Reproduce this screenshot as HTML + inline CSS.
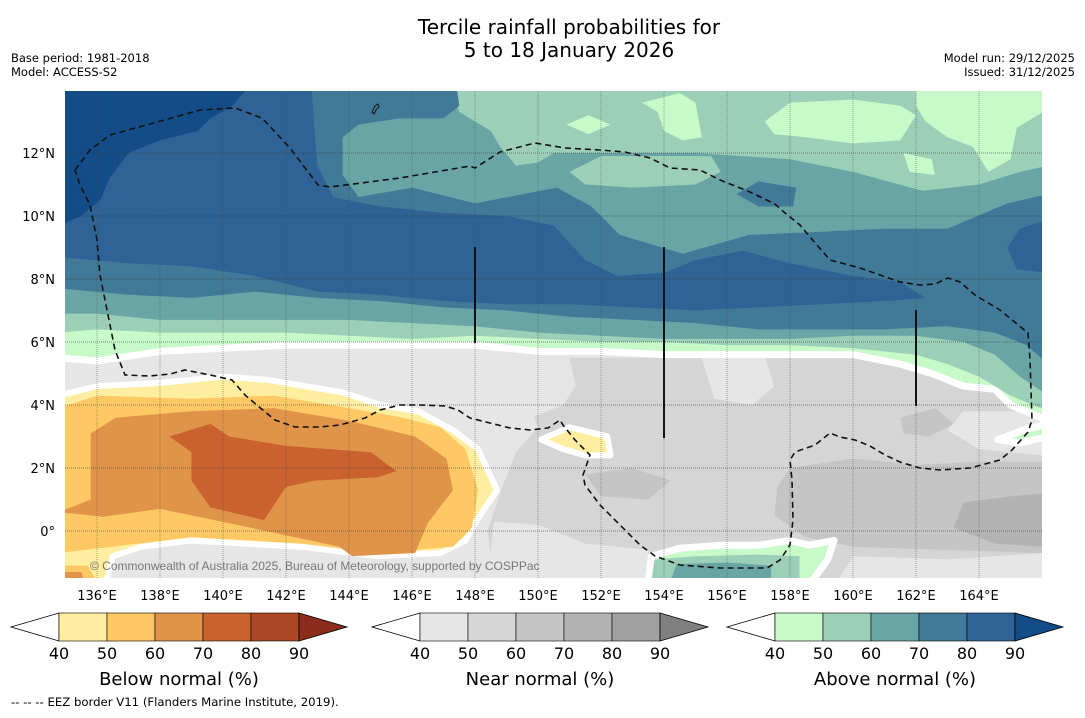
<!DOCTYPE html>
<html><head><meta charset="utf-8"><style>
body{margin:0;background:#fff;font-family:"Liberation Sans",sans-serif;}
svg text{font-family:"DejaVu Sans","Liberation Sans",sans-serif;}
</style></head><body>
<svg id="chart" width="1085" height="713" viewBox="0 0 1085 713" xmlns="http://www.w3.org/2000/svg">
<defs><clipPath id="mapclip"><rect x="65" y="91" width="977" height="487"/></clipPath></defs>
<text x="569" y="34" font-size="20" text-anchor="middle">Tercile rainfall probabilities for</text>
<text x="569" y="57" font-size="20" text-anchor="middle">5 to 18 January 2026</text>
<text x="11" y="62" font-size="11.5">Base period: 1981-2018</text>
<text x="11" y="76" font-size="11.5">Model: ACCESS-S2</text>
<text x="1075" y="62" font-size="11.5" text-anchor="end">Model run: 29/12/2025</text>
<text x="1075" y="76" font-size="11.5" text-anchor="end">Issued: 31/12/2025</text>
<g id="field" clip-path="url(#mapclip)"></g>
<g id="overlay" clip-path="url(#mapclip)">
<path fill="none" stroke="#111" stroke-width="1.6" stroke-dasharray="6,4" d="M75,170 L90,150 L110,135 L150,124 L200,110 L235,108 L262,118 L290,148 L318,185 L330,187 L400,178 L470,166 L475,168 L500,152 L535,143 L565,148 L600,150 L625,152 L650,158 L670,168 L700,170 L720,180 L750,192 L775,204 L785,213 L800,225 L810,237 L830,260 L860,268 L880,275 L900,282 L920,285 L935,284 L948,278 L960,282 L975,295 L1000,310 L1028,333 L1030,360 L1032,420 L1028,432 L1012,450 L1000,460 L970,468 L940,470 L920,468 L900,462 L885,455 L870,446 L855,440 L840,437 L830,433 L815,445 L795,452 L790,460 L792,480 L793,520 L790,545 L780,560 L767,568 L720,568 L680,565 L655,556 L640,545 L620,525 L600,505 L585,485 L583,475 L590,455 L575,440 L563,425 L560,420 L548,428 L530,430 L510,428 L490,423 L470,418 L458,410 L445,406 L420,405 L400,405 L380,410 L365,418 L340,425 L320,427 L295,427 L275,420 L258,406 L245,395 L232,380 L215,376 L200,373 L185,370 L170,374 L150,376 L125,375 L115,350 L107,310 L100,275 L97,240 L90,205 L80,185 L75,170"/>
<line x1="475" y1="247" x2="475" y2="343" stroke="#111" stroke-width="2"/>
<line x1="664" y1="247" x2="664" y2="438" stroke="#111" stroke-width="2"/>
<line x1="916" y1="310" x2="916" y2="406" stroke="#111" stroke-width="2"/>
<path d="M372,112 l3,-6 l3,-2 l1,3 l-3,3 l-2,4z" fill="none" stroke="#111" stroke-width="1"/>
<text x="90" y="570" font-size="12" fill="#777" style="font-family:'Liberation Sans',sans-serif">© Commonwealth of Australia 2025, Bureau of Meteorology, supported by COSPPac</text>
</g>
<g id="axes"></g>
<g id="cbars"></g>
<text x="11" y="706" font-size="11.7">--  --  -- EEZ border V11 (Flanders Marine Institute, 2019).</text>
</svg>
<script>
const lonTicks=[136,138,140,142,144,146,148,150,152,154,156,158,160,162,164];
const latTicks=[0,2,4,6,8,10,12];
const cbarLevels=[40,50,60,70,80,90];
const belowColors=["#ffeda0","#fec965","#e0944a","#c9622f","#ab4725","#8a2d1c"];
const nearColors=["#e6e6e6","#d5d5d5","#c5c5c5","#b3b3b3","#a1a1a1","#808080"];
const aboveColors=["#c8f9c8","#9ccfb8","#6aa5a5","#417a98","#2f6396","#144c88"];
const cbarTitles=["Below normal (%)","Near normal (%)","Above normal (%)"];

const gray50=[[[148.8,5.5],[166,5.5],[166,-1.6],[148.6,-1.6],[148.4,0],[148.9,1.5],[149.3,2.5],[150,3.3],[149.5,4.5]]];
const grayLight=[[[148.3,5.5],[151,5.5],[151.2,4.6],[150.8,4.0],[149.8,3.6],[149,3.7]],[[155.2,5.5],[157.2,5.5],[157.5,4.6],[156.8,4.0],[155.6,4.2]],[[148.4,-1.6],[148.6,0.3],[150,0.2],[151.5,-0.4],[153.5,-0.6],[153.5,-1.6]],[[163.5,3.8],[166,3.8],[166,2.4],[164,2.6],[163,3.2]],[[159.5,-1.6],[160,-0.8],[163,-0.9],[166,-0.7],[166,-1.6]]];
const gray60=[[[158,2.0],[160,2.3],[162,2.1],[164,2.2],[166,2.2],[166,-0.7],[163,-0.6],[160,-0.5],[158.5,-0.2],[157.5,0.5],[157.6,1.4]],[[161.5,3.6],[162.6,3.9],[163.2,3.4],[162.4,3.0],[161.6,3.1]],[[151.5,1.8],[153,2.0],[154.2,1.6],[153.5,1.0],[152,1.1]]];
const gray70=[[[163.5,0.9],[165,1.1],[166,1.2],[166,-0.5],[164.5,-0.4],[163.2,0.1]]];
const below40=[[[134.8,4.3],[136,4.6],[138,4.7],[140,4.9],[141.4,4.8],[143.8,4.4],[145,4.0],[146.2,3.8],[147.3,3.2],[148.1,2.6],[148.7,1.3],[148.1,0.4],[147.7,-0.3],[146.9,-0.7],[144.9,-0.8],[142.5,-0.5],[139,-0.3],[137.4,-0.5],[136.5,-0.8],[136.3,-1.6],[134.8,-1.6]],[[150.1,2.9],[151,3.3],[152.2,3.0],[152.3,2.4],[151.5,2.4],[150.8,2.6]]];
const below50=[[[134.8,3.9],[136,4.3],[139,4.2],[141.6,4.3],[144,3.9],[145.7,3.6],[146.9,3.3],[147.7,2.6],[148.1,1.3],[147.9,0.1],[147.3,-0.5],[144.9,-0.7],[142.5,-0.4],[139,-0.2],[134.8,-0.7]],[[134.8,-1.1],[135.7,-1.1],[136,-1.6],[134.8,-1.6]]];
const below60=[[[134.8,0.6],[135.8,1.0],[135.8,3.1],[136.6,3.6],[139,3.8],[141.6,3.9],[144,3.5],[146.1,3.0],[147.1,2.3],[147.3,1.3],[146.5,0.25],[146.1,-0.7],[144.1,-0.8],[143.7,-0.5],[140.9,0.1],[138,0.7],[136.2,0.45]],[[134.8,-1.3],[135.5,-1.3],[135.6,-1.6],[134.8,-1.6]]];
const below70=[[[138.3,3.0],[139.6,3.4],[140.2,3.0],[142,2.7],[144.7,2.5],[145.5,1.9],[144.9,1.7],[142.9,1.6],[142,1.4],[141.3,0.35],[139.6,0.75],[139,1.6],[139,2.5]]];
const above40=[[[134.8,14.2],[166.2,14.2],[166.2,3.5],[165,4.0],[164.5,4.5],[163.5,4.6],[162.5,5.0],[161.5,5.3],[160,5.6],[158,5.6],[156,5.6],[154,5.6],[152,5.7],[150,5.7],[148,5.9],[146,5.9],[144,5.9],[142,5.9],[140,5.8],[138,5.7],[136,5.4],[134.8,5.5]],[[164.6,2.9],[165.4,3.2],[166.2,3.4],[166.2,3.0],[165.3,2.8]],[[153.5,-1.6],[153.6,-0.8],[154.5,-0.55],[155.8,-0.45],[157,-0.45],[158,-0.3],[158.6,-0.45],[159.4,-0.3],[159.2,-0.9],[158.7,-1.6]]];
const above50=[[[134.8,14.2],[166.2,14.2],[166.2,3.8],[165,4.3],[164,4.9],[163,5.3],[162,5.6],[160,5.8],[158,5.9],[156,5.9],[154,6.0],[152,6.0],[150,6.1],[148,6.2],[146,6.1],[144,6.2],[142,6.3],[140,6.3],[138,6.3],[136,6.4],[134.8,6.3]],[[153.6,-1.6],[153.7,-0.9],[155,-0.8],[157,-0.75],[158.3,-0.8],[158.3,-1.6]]];
const above40Holes=[[[157.2,13.0],[158,13.6],[160,13.7],[161.5,13.5],[162,13.2],[161.5,12.4],[160,12.3],[158.5,12.5],[157.5,12.6]],[[162,14.2],[166.2,14.2],[166.2,13.4],[165.2,12.8],[165,11.8],[164.3,11.4],[163.8,12.2],[163,12.5],[162.3,13],[162,13.5]],[[153.3,13.6],[154.5,13.9],[155,13.6],[155.2,12.5],[154.6,12.4],[154,12.7],[153.8,13.3]],[[150.9,12.9],[151.6,13.2],[152.3,12.9],[151.6,12.6]],[[161.6,12],[162.5,11.8],[162.6,11.3],[161.8,11.4]]];
const above60=[[[134.8,14.2],[147.2,14.2],[147.5,13.3],[148.5,12.7],[148.8,12.2],[149.3,11.6],[150,11.7],[150.5,12.0],[152,12.0],[155,12.0],[158,11.8],[160,11.4],[162.2,10.8],[164,11.0],[165.3,11.4],[166.2,11.6],[166.2,4.3],[165.3,4.9],[164.5,5.6],[163.5,6.0],[162,6.2],[160,6.2],[158,6.1],[156,6.1],[154,6.1],[152,6.2],[150,6.3],[148,6.5],[146,6.6],[144,6.7],[142,6.7],[140,6.7],[138,6.7],[136,6.9],[134.8,6.9]],[[154.2,-1.6],[154.4,-1.05],[156,-1.0],[157.4,-1.1],[157.4,-1.6]]];
const above50Holes=[[[151,11.4],[152,11.9],[155.5,11.9],[155.8,11.4],[155,11.0],[153,10.9],[151.5,11.0]]];
const above70=[[[134.8,14.2],[147.4,14.2],[147.5,13.5],[147,13.1],[145.6,13.1],[144.3,12.9],[143.8,12.5],[143.8,11.3],[144.3,10.6],[146,10.9],[148,10.4],[150.6,10.9],[151.7,10.3],[152.6,9.4],[154.6,8.8],[156.7,9.4],[159,9.5],[161,9.6],[163,9.6],[164.9,10.4],[166.2,10.7],[166.2,5.3],[165.5,5.9],[164.5,6.3],[163,6.5],[161,6.4],[159,6.4],[157,6.4],[155,6.6],[153,6.7],[151,6.8],[149,7.0],[147,7.1],[145,7.3],[143,7.4],[141,7.6],[139,7.4],[137,7.5],[134.8,7.7]],[[156.3,10.7],[157,11.1],[158.2,10.9],[158.1,10.3],[157,10.3]]];
const above80=[[[134.8,14.2],[142.8,14.2],[142.9,12.8],[143,11.6],[143.5,10.6],[145,10.3],[147,10.1],[149,10.0],[150.5,9.7],[151.5,8.6],[152.5,8.1],[154,8.2],[155,8.6],[156.5,8.9],[158,8.5],[160,8.1],[161.5,7.9],[162.3,7.4],[161,7.3],[159,7.2],[157,7.1],[155,7.0],[153,7.1],[151,7.2],[149,7.2],[147,7.3],[145,7.5],[143,7.6],[141,8.1],[139,8.4],[137,8.5],[134.8,8.7]],[[166.2,9.9],[165.3,9.6],[164.9,9.0],[165.2,8.3],[166.2,8.2]]];
const above90=[[[134.8,14.2],[140.9,14.2],[140.3,13.5],[139.6,13.1],[139.2,12.7],[138,12.4],[137,12.0],[136.4,11.2],[136.1,10.5],[135.5,10.0],[134.8,9.7]]];

const NS="http://www.w3.org/2000/svg";
function xOf(lon){return 97+(lon-136)*31.5;}
function yOf(lat){return 531-lat*31.5;}
const field=document.getElementById('field');
function drawPolys(polys,color,name,stroke){
  polys.forEach(function(poly,i){
    const p=document.createElementNS(NS,'polygon');
    p.setAttribute('points',poly.map(function(q){return xOf(q[0]).toFixed(1)+','+yOf(q[1]).toFixed(1);}).join(' '));
    p.setAttribute('fill',color);
    if(stroke){p.setAttribute('stroke','#fff');p.setAttribute('stroke-width',stroke);p.setAttribute('stroke-linejoin','round');}
    
    
    field.appendChild(p);
  });
}
const base=document.createElementNS(NS,'rect');
base.setAttribute('x',65);base.setAttribute('y',91);base.setAttribute('width',977);base.setAttribute('height',487);base.setAttribute('fill',nearColors[0]);


field.appendChild(base);
drawPolys(gray50,nearColors[1],'near-normal-50');
drawPolys(grayLight,nearColors[0],'near-normal-40');
drawPolys(gray60,nearColors[2],'near-normal-60');
drawPolys(gray70,nearColors[3],'near-normal-70');
drawPolys(below40,belowColors[0],'below-normal-40',6);
drawPolys(below50,belowColors[1],'below-normal-50');
drawPolys(below60,belowColors[2],'below-normal-60');
drawPolys(below70,belowColors[3],'below-normal-70');
drawPolys(above40,aboveColors[0],'above-normal-40',7);
drawPolys(above50,aboveColors[1],'above-normal-50');
drawPolys(above40Holes,aboveColors[0],'above-normal-40-patch');
drawPolys(above60,aboveColors[2],'above-normal-60');
drawPolys(above50Holes,aboveColors[1],'above-normal-50-patch');
drawPolys(above70,aboveColors[3],'above-normal-70');
drawPolys(above80,aboveColors[4],'above-normal-80');
drawPolys(above90,aboveColors[5],'above-normal-90');

const ov=document.getElementById('overlay');
lonTicks.forEach(function(lon){
  const l=document.createElementNS(NS,'line');
  l.setAttribute('x1',xOf(lon));l.setAttribute('x2',xOf(lon));l.setAttribute('y1',91);l.setAttribute('y2',578);
  l.setAttribute('stroke','#444');l.setAttribute('stroke-opacity','0.45');l.setAttribute('stroke-width','1');l.setAttribute('stroke-dasharray','1,1');
  
  
  ov.insertBefore(l,ov.firstChild);
});
latTicks.forEach(function(lat){
  const l=document.createElementNS(NS,'line');
  l.setAttribute('x1',65);l.setAttribute('x2',1042);l.setAttribute('y1',yOf(lat));l.setAttribute('y2',yOf(lat));
  l.setAttribute('stroke','#333');l.setAttribute('stroke-opacity','0.55');l.setAttribute('stroke-width','1');l.setAttribute('stroke-dasharray','1,1');
  
  
  ov.insertBefore(l,ov.firstChild);
});
const ax=document.getElementById('axes');
lonTicks.forEach(function(lon){
  const t=document.createElementNS(NS,'text');
  t.setAttribute('x',xOf(lon));t.setAttribute('y',600);t.setAttribute('font-size','13');t.setAttribute('text-anchor','middle');
  t.textContent=lon+'°E';
  
  
  ax.appendChild(t);
});
latTicks.forEach(function(lat){
  const t=document.createElementNS(NS,'text');
  t.setAttribute('x',55);t.setAttribute('y',yOf(lat)+5);t.setAttribute('font-size','13');t.setAttribute('text-anchor','end');
  t.textContent=lat===0?'0°':lat+'°N';
  
  
  ax.appendChild(t);
});
const cb=document.getElementById('cbars');
const cbStarts=[59,420,775];
[belowColors,nearColors,aboveColors].forEach(function(cols,k){
  const x0=cbStarts[k],w=48,y0=613,h=28;
  const g=document.createElementNS(NS,'g');
  
  
  cb.appendChild(g);
  const lt=document.createElementNS(NS,'polygon');
  lt.setAttribute('points',(x0-w)+','+(y0+h/2)+' '+x0+','+y0+' '+x0+','+(y0+h));
  lt.setAttribute('fill','#fff');lt.setAttribute('stroke','#000');lt.setAttribute('stroke-width','0.8');
  
  
  g.appendChild(lt);
  for(let i=0;i<5;i++){
    const r=document.createElementNS(NS,'rect');
    r.setAttribute('x',x0+i*w);r.setAttribute('y',y0);r.setAttribute('width',w);r.setAttribute('height',h);
    r.setAttribute('fill',cols[i]);r.setAttribute('stroke','#000');r.setAttribute('stroke-width','0.6');
    
    
    g.appendChild(r);
  }
  const x1=x0+5*w;
  const rt=document.createElementNS(NS,'polygon');
  rt.setAttribute('points',x1+','+y0+' '+(x1+w)+','+(y0+h/2)+' '+x1+','+(y0+h));
  rt.setAttribute('fill',cols[5]);rt.setAttribute('stroke','#000');rt.setAttribute('stroke-width','0.8');
  
  
  g.appendChild(rt);
  cbarLevels.forEach(function(v,i){
    const t=document.createElementNS(NS,'text');
    t.setAttribute('x',x0+i*w);t.setAttribute('y',659);t.setAttribute('font-size','16');t.setAttribute('text-anchor','middle');
    t.textContent=v;
    
    
    g.appendChild(t);
  });
  const tt=document.createElementNS(NS,'text');
  tt.setAttribute('x',x0+2.5*w);tt.setAttribute('y',685);tt.setAttribute('font-size','18');tt.setAttribute('text-anchor','middle');
  tt.textContent=cbarTitles[k];
  
  
  g.appendChild(tt);
});
</script>
</body></html>
